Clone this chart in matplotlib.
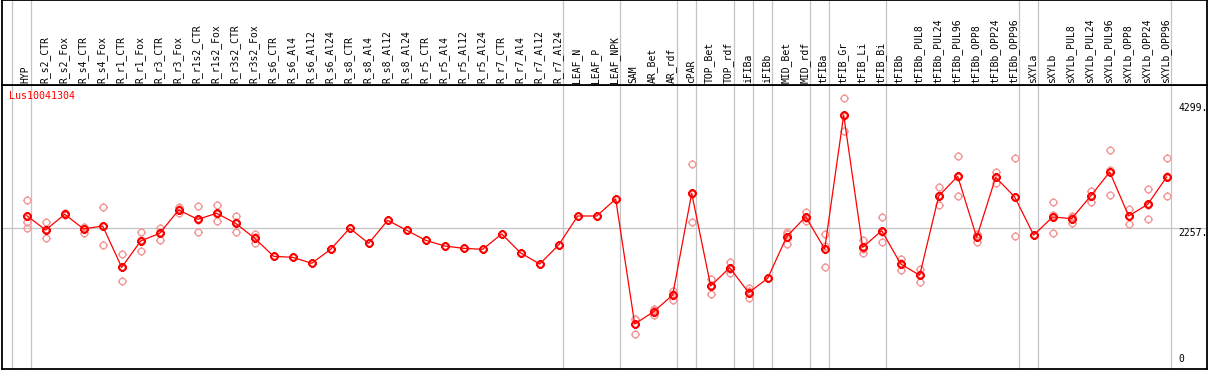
import matplotlib
matplotlib.use("Agg")
import matplotlib.pyplot as plt
from matplotlib.path import Path

labels = ["HYP", "R_s2_CTR", "R_s2_Fox", "R_s4_CTR", "R_s4_Fox", "R_r1_CTR", "R_r1_Fox",
          "R_r3_CTR", "R_r3_Fox", "R_r1s2_CTR", "R_r1s2_Fox", "R_r3s2_CTR", "R_r3s2_Fox",
          "R_s6_CTR", "R_s6_Al4", "R_s6_Al12", "R_s6_Al24", "R_s8_CTR", "R_s8_Al4",
          "R_s8_Al12", "R_s8_Al24", "R_r5_CTR", "R_r5_Al4", "R_r5_Al12", "R_r5_Al24",
          "R_r7_CTR", "R_r7_Al4", "R_r7_Al12", "R_r7_Al24", "LEAF_N", "LEAF_P", "LEAF_NPK",
          "SAM", "AR_Bet", "AR_rdf", "cPAR", "TOP_Bet", "TOP_rdf", "iFIBa", "iFIBb",
          "MID_Bet", "MID_rdf", "tFIBa", "tFIB_Gr", "tFIB_Li", "tFIB_Bi", "tFIBb",
          "tFIBb_PUL8", "tFIBb_PUL24", "tFIBb_PUL96", "tFIBb_OPP8", "tFIBb_OPP24",
          "tFIBb_OPP96", "sXYLa", "sXYLb", "sXYLb_PUL8", "sXYLb_PUL24", "sXYLb_PUL96",
          "sXYLb_OPP8", "sXYLb_OPP24", "sXYLb_OPP96"]

means = [2463, 2228, 2485, 2245, 2294, 1617, 2048, 2174, 2555, 2403, 2501, 2337, 2092,
         1797, 1781, 1683, 1912, 2256, 2010, 2386, 2223, 2059, 1966, 1928, 1912,
         2163, 1852, 1672, 1983, 2457, 2457, 2735,
         690, 892, 1165, 2828, 1312, 1612, 1203, 1438,
         2119, 2446, 1917, 4110, 1945, 2217, 1672,
         1487, 2784, 3106, 2108, 3090, 2768, 2146, 2441, 2414, 2784, 3177,
         2457, 2648, 3095]

replicates = [
    [2719, 2365, 2256], [2354, 2239, 2092], [2501, 2485, 2468], [2283, 2266, 2185],
    [2599, 2299, 1983], [1836, 1623, 1394], [2190, 2070, 1885], [2266, 2190, 2065],
    [2599, 2566, 2501], [2621, 2397, 2190], [2637, 2485, 2381], [2457, 2354, 2201],
    [2157, 2108, 2010],
    [], [], [], [], [], [], [], [], [], [], [], [], [], [], [], [], [], [], [],
    [778, 767, 527], [930, 914, 832], [1236, 1176, 1083], [3308, 2812, 2365],
    [1421, 1328, 1187], [1710, 1596, 1530], [1274, 1225, 1110], [],
    [2201, 2157, 1999], [2528, 2430, 2381], [2163, 1972, 1617], [4382, 4093, 3853],
    [2065, 1912, 1857], [2435, 2190, 2026], [1754, 1688, 1574],
    [1585, 1503, 1372], [2926, 2795, 2632], [3433, 3101, 2784], [2163, 2125, 2037],
    [3177, 3090, 3003], [3401, 2774, 2130], [], [2681, 2468, 2174],
    [2457, 2435, 2348], [2872, 2790, 2692], [3532, 3204, 2795],
    [2577, 2463, 2332], [2899, 2643, 2403], [3401, 3106, 2779],
]

group_bounds = [0, 1, 29, 32, 35, 36, 38, 39, 40, 42, 43, 46, 53, 54, 61]
gene_id = "Lus10041304"
ytick_vals = [4299, 2257, 0]
ytick_text = ["4299.", "2257.", "0"]

W, H = 1209, 370
fig = plt.figure(figsize=(W / 100, H / 100), dpi=100)

left_px, right_px = 2, 1207
head_top, head_bot, plot_bot = 0, 85, 369
xmin = -1.3
xmax = xmin + (right_px - left_px) / 19.0

ax = fig.add_axes([left_px / W, (H - plot_bot) / H, (right_px - left_px) / W,
                   (plot_bot - head_bot) / H])
hx = fig.add_axes([left_px / W, (H - head_bot) / H, (right_px - left_px) / W,
                   (head_bot - head_top) / H])

for a in (ax, hx):
    a.set_xlim(xmin, xmax)
    a.set_xticks([])
    a.set_yticks([])
    for s in a.spines.values():
        s.set_color("black")
        s.set_linewidth(1.3)
ax.set_ylim(-46, 4600)
hx.set_ylim(85, 0)

grey = "#c4c4c4"
off = 15.0 / 19.0
for b in group_bounds:
    ax.axvline(b - off, color=grey, lw=0.9, zorder=1)
    hx.axvline(b - off, color=grey, lw=0.9, zorder=1)
ax.axhline(2257, color=grey, lw=0.9, zorder=1)

mono = "DejaVu Sans Mono"
for i, lab in enumerate(labels):
    hx.text(i - 0.05, 83, lab, rotation=90, ha="center", va="bottom",
            fontsize=7, family=mono, color="black")

circle = Path.unit_circle()
t = 1.35
ticks = Path([[1, 0], [t, 0], [-1, 0], [-t, 0], [0, 1], [0, t], [0, -1], [0, -t]],
             [Path.MOVETO, Path.LINETO] * 4)
mk = Path.make_compound_path(circle, ticks)
msize = 2 * t * 3.3 * 0.72

xs = list(range(len(labels)))
for i, reps in enumerate(replicates):
    if reps:
        ax.plot([i] * len(reps), reps, linestyle="none", marker=mk, markersize=msize,
                markerfacecolor="none", markeredgecolor="#f29a9a", markeredgewidth=1.0,
                zorder=2)
ax.plot(xs, means, color="#ff0000", lw=0.9, zorder=3)
ax.plot(xs, means, linestyle="none", marker=mk, markersize=msize,
        markerfacecolor="none", markeredgecolor="#ff0000", markeredgewidth=1.5, zorder=4)

xlab = xmin + (1178.5 - left_px) / 19.0
for v, s in zip(ytick_vals, ytick_text):
    if v == 0:
        ax.text(xlab, 40, s, ha="left", va="bottom", fontsize=7, family=mono)
    else:
        ax.text(xlab, v, s, ha="left", va="top", fontsize=7, family=mono)

ax.text(xmin + (9 - left_px) / 19.0, 4500, gene_id, ha="left", va="top",
        fontsize=7.2, family=mono, color="#ff0000")

fig.savefig("out.png", dpi=100)
